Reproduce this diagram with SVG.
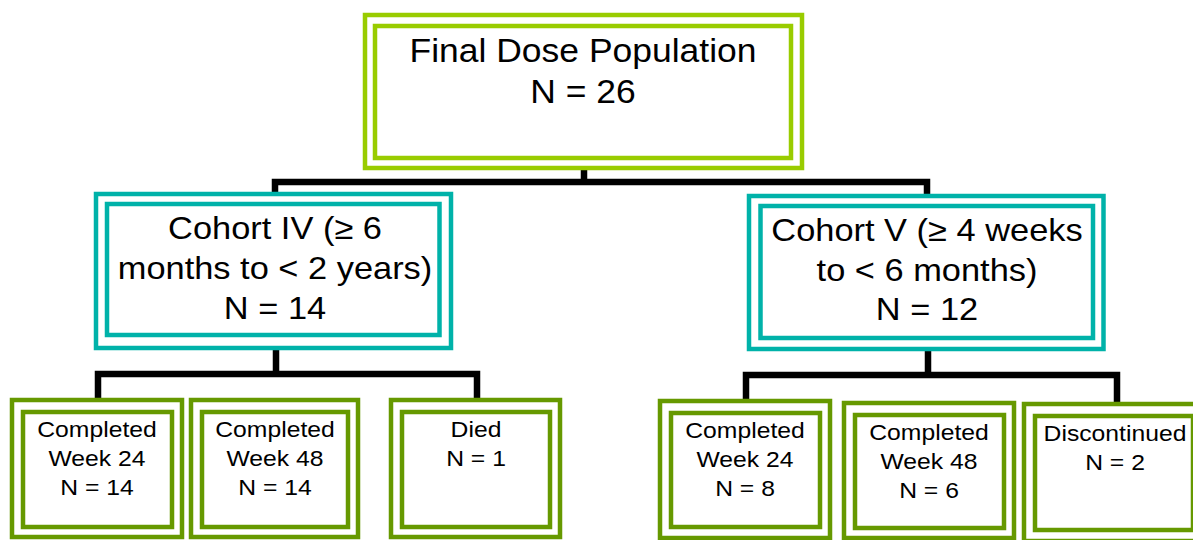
<svg xmlns="http://www.w3.org/2000/svg" width="1193" height="540" viewBox="0 0 1193 540">
<style>
.bx{fill:none;stroke-width:4.5}
.top{stroke:#99cc00}
.coh{stroke:#00b2a9}
.sm{stroke:#669900}
.t{font-family:"Liberation Sans",Arial,sans-serif;fill:#000;text-anchor:middle}
.t1{font-size:33px}
.t2{font-size:32px}
.t3{font-size:23px}
.conn{fill:none;stroke:#000;stroke-width:6.5;stroke-linejoin:miter;stroke-linecap:butt}
</style>
<rect width="1193" height="540" fill="#fff"/>
<g id="connectors">
<path class="conn" d="M584,168 V182 M275,194 V182 H927 V196"/>
<path class="conn" d="M276,348 V374 M98,400 V374 H477 V400"/>
<path class="conn" d="M928,349 V375 M746,401 V375 H1117 V404"/>
</g>
<g id="final">
<rect class="bx top" x="365" y="15" width="437" height="153"/>
<rect class="bx top" x="375" y="26" width="416" height="132"/>
<text class="t t1" transform="translate(583 62) scale(1.075 1)">Final Dose Population</text>
<text class="t t1" transform="translate(583 103) scale(1.075 1)">N = 26</text>
</g>
<g id="cohort4">
<rect class="bx coh" x="96" y="194" width="355" height="154"/>
<rect class="bx coh" x="107" y="204" width="332.5" height="131"/>
<text class="t t2" transform="translate(275 239) scale(1.075 1)">Cohort IV (≥ 6</text>
<text class="t t2" transform="translate(275 279) scale(1.075 1)">months to &lt; 2 years)</text>
<text class="t t2" transform="translate(275 319) scale(1.075 1)">N = 14</text>
</g>
<g id="cohort5">
<rect class="bx coh" x="749" y="196" width="354.5" height="153"/>
<rect class="bx coh" x="760.5" y="206" width="332.5" height="132"/>
<text class="t t2" transform="translate(927 241) scale(1.075 1)">Cohort V (≥ 4 weeks</text>
<text class="t t2" transform="translate(927 281) scale(1.075 1)">to &lt; 6 months)</text>
<text class="t t2" transform="translate(927 320) scale(1.075 1)">N = 12</text>
</g>
<g id="c4w24">
<rect class="bx sm" x="12" y="400" width="170" height="137"/>
<rect class="bx sm" x="23" y="412" width="149" height="115"/>
<text class="t t3" transform="translate(97 437) scale(1.075 1)">Completed</text>
<text class="t t3" transform="translate(97 466) scale(1.075 1)">Week 24</text>
<text class="t t3" transform="translate(97 495) scale(1.075 1)">N = 14</text>
</g>
<g id="c4w48">
<rect class="bx sm" x="191" y="400" width="167" height="137"/>
<rect class="bx sm" x="202" y="412" width="146" height="115"/>
<text class="t t3" transform="translate(275 437) scale(1.075 1)">Completed</text>
<text class="t t3" transform="translate(275 466) scale(1.075 1)">Week 48</text>
<text class="t t3" transform="translate(275 495) scale(1.075 1)">N = 14</text>
</g>
<g id="c4died">
<rect class="bx sm" x="391" y="400" width="169" height="137"/>
<rect class="bx sm" x="402" y="412" width="148" height="115"/>
<text class="t t3" transform="translate(476 437) scale(1.075 1)">Died</text>
<text class="t t3" transform="translate(476 466) scale(1.075 1)">N = 1</text>
</g>
<g id="c5w24">
<rect class="bx sm" x="660" y="401" width="170" height="137"/>
<rect class="bx sm" x="671" y="413" width="149" height="114"/>
<text class="t t3" transform="translate(745 438) scale(1.075 1)">Completed</text>
<text class="t t3" transform="translate(745 467) scale(1.075 1)">Week 24</text>
<text class="t t3" transform="translate(745 496) scale(1.075 1)">N = 8</text>
</g>
<g id="c5w48">
<rect class="bx sm" x="844" y="403" width="170" height="135"/>
<rect class="bx sm" x="855" y="415" width="149" height="113"/>
<text class="t t3" transform="translate(929 440) scale(1.075 1)">Completed</text>
<text class="t t3" transform="translate(929 469) scale(1.075 1)">Week 48</text>
<text class="t t3" transform="translate(929 498) scale(1.075 1)">N = 6</text>
</g>
<g id="c5disc">
<rect class="bx sm" x="1024" y="404" width="180" height="137"/>
<rect class="bx sm" x="1035" y="416" width="158" height="114"/>
<text class="t t3" transform="translate(1115 441) scale(1.075 1)">Discontinued</text>
<text class="t t3" transform="translate(1115 470) scale(1.075 1)">N = 2</text>
</g>
</svg>
